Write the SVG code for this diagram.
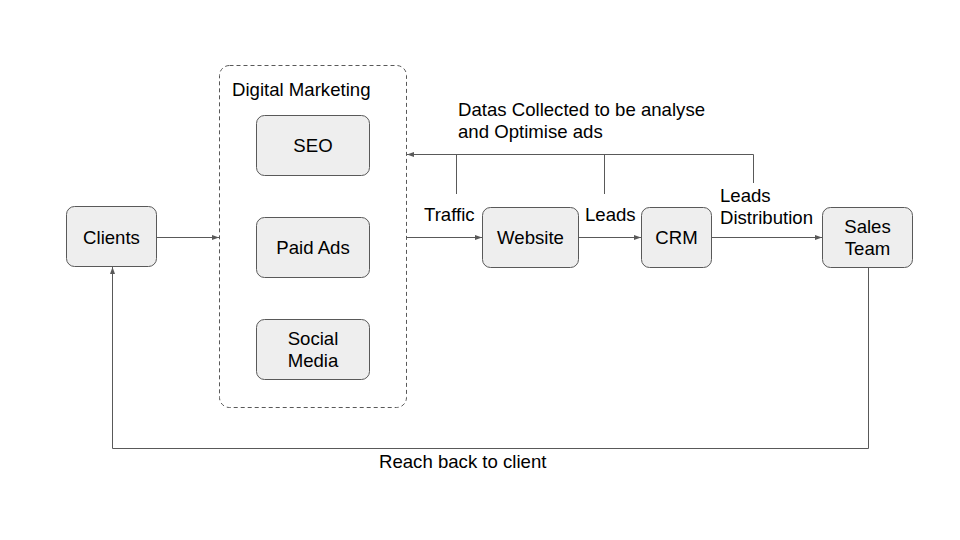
<svg xmlns="http://www.w3.org/2000/svg" width="960" height="540" viewBox="0 0 960 540">
<defs>
<style>
.n{fill:#eeeeee;stroke:#595959;stroke-width:1}
.t{font-family:"Liberation Sans",Arial,sans-serif;font-size:18.6px;fill:#000}
.c{fill:none;stroke:#595959;stroke-width:1}
</style>
<marker id="a" markerWidth="8" markerHeight="8" refX="7" refY="4" orient="auto" markerUnits="userSpaceOnUse">
<path d="M0,1.5 L7,4 L0,6.5 z" fill="#595959"/>
</marker>
</defs>
<rect width="960" height="540" fill="#fff"/>
<g id="dm">
<rect x="219.5" y="65.5" width="187" height="342" rx="10" fill="none" stroke="#595959" stroke-dasharray="4,3"/>
<text class="t" x="232" y="96">Digital Marketing</text>
</g>
<g id="clients"><rect class="n" x="66.5" y="206.5" width="90" height="60" rx="8"/><text class="t" x="111.5" y="244" text-anchor="middle">Clients</text></g>
<g id="seo"><rect class="n" x="256.5" y="115.5" width="113" height="60" rx="8"/><text class="t" x="313" y="152" text-anchor="middle">SEO</text></g>
<g id="paid"><rect class="n" x="256.5" y="217.5" width="113" height="60" rx="8"/><text class="t" x="313" y="254" text-anchor="middle">Paid Ads</text></g>
<g id="social"><rect class="n" x="256.5" y="319.5" width="113" height="60" rx="8"/><text class="t" x="313" y="345" text-anchor="middle">Social</text><text class="t" x="313" y="367" text-anchor="middle">Media</text></g>
<g id="website"><rect class="n" x="482.5" y="207.5" width="96" height="60" rx="8"/><text class="t" x="530.5" y="244" text-anchor="middle">Website</text></g>
<g id="crm"><rect class="n" x="641.5" y="207.5" width="70" height="60" rx="8"/><text class="t" x="676.5" y="244" text-anchor="middle">CRM</text></g>
<g id="sales"><rect class="n" x="822.5" y="207.5" width="90" height="60" rx="8"/><text class="t" x="867.5" y="233" text-anchor="middle">Sales</text><text class="t" x="867.5" y="255" text-anchor="middle">Team</text></g>
<g id="connectors">
<line class="c" x1="156.5" y1="237.5" x2="219" y2="237.5" marker-end="url(#a)"/>
<line class="c" x1="406.5" y1="237.5" x2="482" y2="237.5" marker-end="url(#a)"/>
<line class="c" x1="578.5" y1="237.5" x2="641" y2="237.5" marker-end="url(#a)"/>
<line class="c" x1="711.5" y1="237.5" x2="822" y2="237.5" marker-end="url(#a)"/>
<polyline class="c" points="753.5,183 753.5,154.5 407,154.5" marker-end="url(#a)"/>
<line class="c" x1="456.5" y1="154.5" x2="456.5" y2="194"/>
<line class="c" x1="604.5" y1="154.5" x2="604.5" y2="194"/>
<polyline class="c" points="868.5,267.5 868.5,448.5 112.5,448.5 112.5,267" marker-end="url(#a)"/>
<text class="t" x="458" y="116">Datas Collected to be analyse</text>
<text class="t" x="458" y="138">and Optimise ads</text>
<text class="t" x="424" y="221">Traffic</text>
<text class="t" x="585" y="221">Leads</text>
<text class="t" x="720" y="202">Leads</text>
<text class="t" x="720" y="224">Distribution</text>
<text class="t" x="379" y="468">Reach back to client</text>
</g>
</svg>
